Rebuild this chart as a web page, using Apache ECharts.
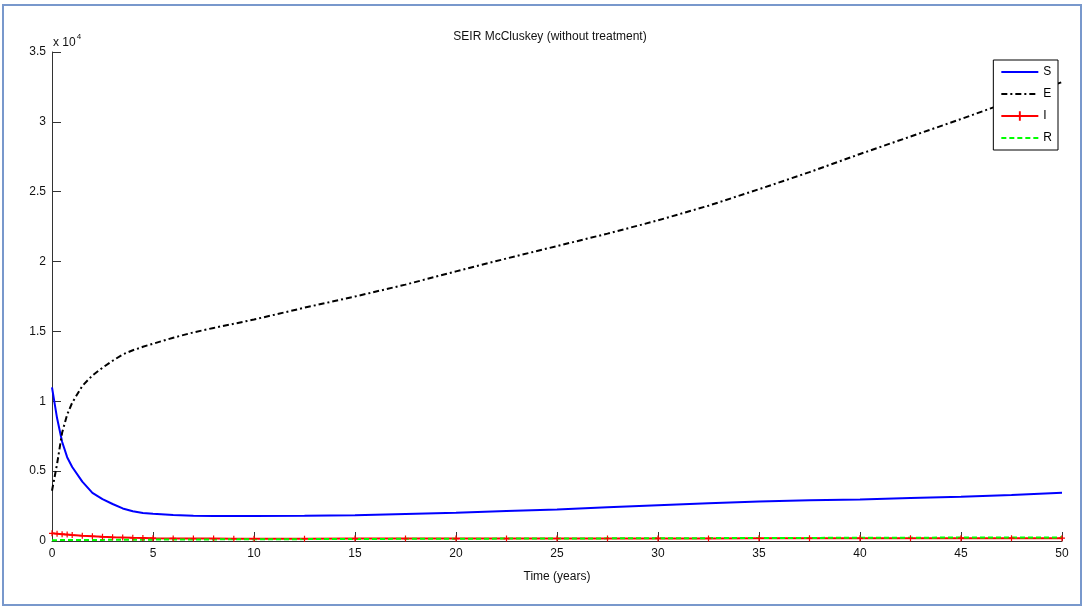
<!DOCTYPE html>
<html>
<head>
<meta charset="utf-8">
<script src="https://cdn.jsdelivr.net/npm/echarts@6/dist/echarts.min.js"></script>
<style>
  html, body { margin: 0; padding: 0; background: #fff; }
  #chart { width: 1084px; height: 608px; }
</style>
</head>
<body>
<div id="chart"></div>
<script>
// Time grid (years)
const time = [0, 0.25, 0.5, 0.75, 1, 1.5, 2, 2.5, 3, 3.5, 4, 4.5, 5, 6, 7, 8, 9, 10,
  12.5, 15, 17.5, 20, 22.5, 25, 27.5, 30, 32.5, 35, 37.5, 40, 42.5, 45, 47.5, 50];

// Susceptible
const S = [11000, 8800, 7100, 6000, 5300, 4250, 3450, 3000, 2650, 2330, 2130, 2010, 1950, 1860, 1800, 1790, 1790, 1790,
  1800, 1850, 1940, 2030, 2150, 2260, 2420, 2560, 2700, 2820, 2910, 2970, 3070, 3170, 3300, 3460];

// Exposed
const E = [3600, 5500, 7750, 9050, 9900, 11100, 11850, 12400, 12900, 13350, 13650, 13900, 14120, 14550, 14930, 15250, 15550, 15850,
  16700, 17500, 18350, 19300, 20220, 21110, 22000, 22950, 24000, 25180, 26400, 27700, 28950, 30200, 31500, 32850];

// Infectious
const I = [550, 520, 490, 460, 430, 380, 340, 300, 270, 250, 230, 215, 200, 185, 175, 170, 165, 165,
  165, 170, 170, 175, 175, 180, 180, 185, 185, 190, 190, 195, 195, 200, 200, 200];

// Recovered
const R = [60, 62, 64, 66, 68, 72, 76, 80, 84, 88, 92, 95, 98, 104, 110, 115, 120, 125,
  135, 145, 155, 165, 172, 180, 188, 196, 205, 214, 222, 230, 238, 245, 252, 260];

const seriesNames = ['S', 'E', 'I', 'R'];
const xTicks = { min: 0, max: 50, interval: 5 };
const yTicks = { min: 0, max: 35000, interval: 5000 };

const pairs = arr => time.map((t, i) => [t, arr[i]]);
const plusPath = 'path://M4,0 L6,0 L6,4 L10,4 L10,6 L6,6 L6,10 L4,10 L4,6 L0,6 L0,4 L4,4 Z';
const font = 'Liberation Sans, Arial, Helvetica, sans-serif';

const chart = echarts.init(document.getElementById('chart'), null, { renderer: 'canvas' });

const axisCommon = {
  axisLine: { show: true, lineStyle: { color: '#333', width: 1 } },
  axisTick: { show: true, inside: true, length: 9, lineStyle: { color: '#333' } },
  splitLine: { show: false },
  axisLabel: { color: '#111', fontSize: 12, fontFamily: font }
};

// Legend entries: plain line samples, the infectious entry keeps its marker
const legendData = seriesNames.map(n => (
  n === 'I' ? { name: n } : { name: n, itemStyle: { opacity: 0 } }
));

chart.setOption({
  animation: false,
  backgroundColor: '#fff',
  textStyle: { fontFamily: font },
  grid: { left: 52, right: 22, top: 52, bottom: 67 },
  xAxis: Object.assign({
    type: 'value',
    min: xTicks.min, max: xTicks.max, interval: xTicks.interval,
    name: 'Time (years)',
    nameLocation: 'middle',
    nameGap: 30,
    nameTextStyle: { color: '#111', fontSize: 12, fontFamily: font }
  }, axisCommon, { axisLabel: { color: '#111', fontSize: 12, fontFamily: font, margin: 7 } }),
  yAxis: Object.assign({
    type: 'value',
    min: yTicks.min, max: yTicks.max, interval: yTicks.interval
  }, axisCommon, {
    axisLabel: {
      color: '#111', fontSize: 12, fontFamily: font, margin: 6,
      formatter: v => String(v / 10000)
    }
  }),
  legend: {
    orient: 'vertical',
    right: 26,
    top: 60,
    padding: [6, 6, 6, 7],
    itemGap: 10,
    itemWidth: 37,
    itemHeight: 12,
    backgroundColor: '#fff',
    borderColor: '#000',
    borderWidth: 1,
    borderRadius: 0,
    textStyle: { color: '#000', fontSize: 12, fontFamily: font },
    data: legendData
  },
  graphic: [
    {
      type: 'rect',
      shape: { x: 3, y: 5, width: 1078, height: 600 },
      style: { fill: 'none', stroke: '#7898cc', lineWidth: 2 },
      silent: true
    },
    {
      type: 'text',
      x: 550, y: 31,
      style: {
        text: 'SEIR McCluskey (without treatment)',
        fill: '#111', fontSize: 12, fontFamily: font, textAlign: 'center'
      }
    },
    {
      type: 'text',
      x: 53, y: 33,
      style: {
        text: '{b|x 10}{s|4}',
        fill: '#111',
        fontFamily: font,
        rich: {
          b: { fontSize: 12, fontFamily: font, fill: '#111', verticalAlign: 'bottom', lineHeight: 16 },
          s: { fontSize: 8, fontFamily: font, fill: '#111', verticalAlign: 'top', lineHeight: 16, padding: [0, 0, 6, 1] }
        }
      }
    }
  ],
  series: [
    {
      name: 'S', type: 'line', data: pairs(S), symbol: 'none',
      lineStyle: { color: '#0000ff', width: 2 }, itemStyle: { color: '#0000ff' }, z: 2
    },
    {
      name: 'E', type: 'line', data: pairs(E), symbol: 'none',
      lineStyle: { color: '#000', width: 2, type: [6, 3, 2, 3] }, itemStyle: { color: '#000' }, z: 2
    },
    {
      name: 'I', type: 'line', data: pairs(I), symbol: plusPath, symbolSize: 6,
      showSymbol: true,
      lineStyle: { color: '#ff0000', width: 2 }, itemStyle: { color: '#ff0000' }, z: 2
    },
    {
      name: 'R', type: 'line', data: pairs(R), symbol: 'none',
      lineStyle: { color: '#00ff00', width: 2, type: [5, 3] }, itemStyle: { color: '#00ff00' }, z: 2
    }
  ]
});
</script>
</body>
</html>
